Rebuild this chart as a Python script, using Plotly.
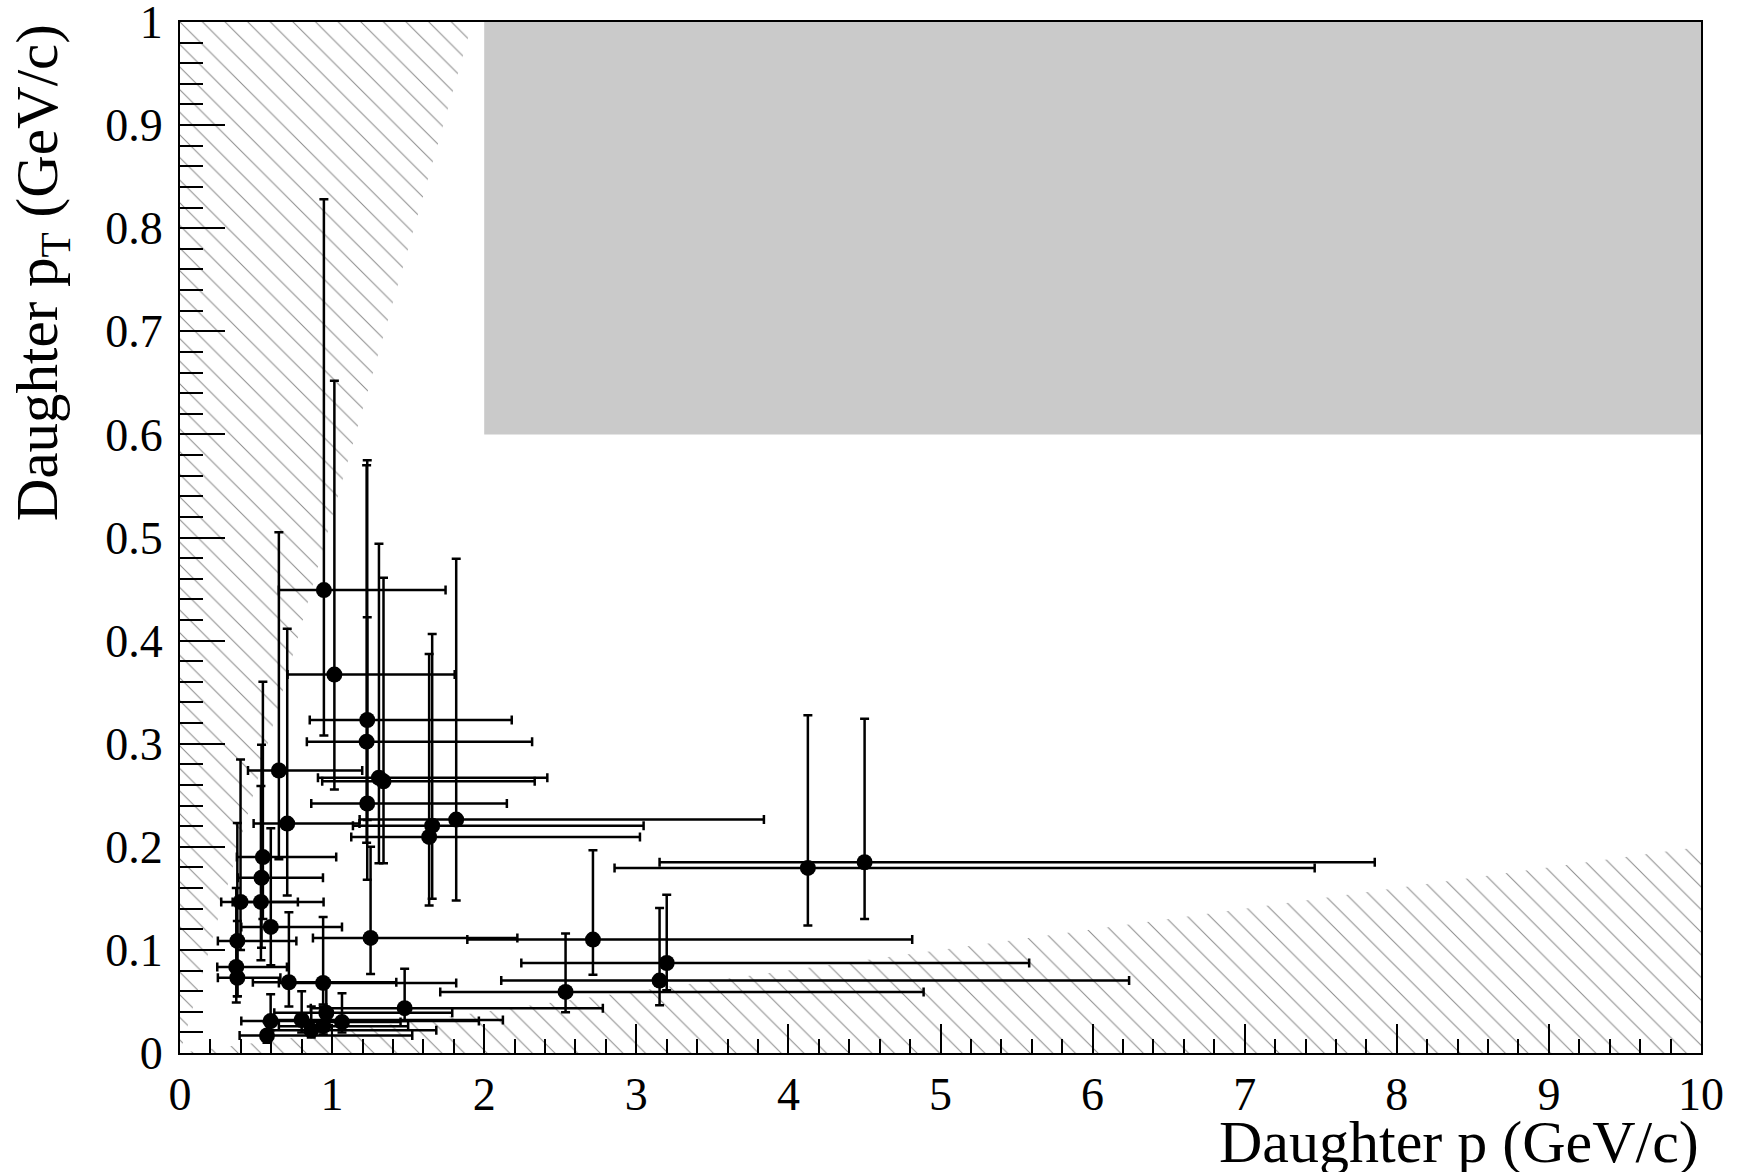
import plotly.graph_objects as go

# ---- data ----
p_val = [0.946, 1.015, 1.231, 1.227, 1.308, 1.338, 1.231, 0.650, 0.705, 1.816,
         1.658, 1.638, 0.545, 0.536, 0.398, 0.532, 0.597, 0.377, 1.253, 2.715,
         0.370, 0.377, 0.716, 0.941, 2.535, 3.153, 3.200, 1.477, 0.596, 0.572,
         0.800, 0.863, 0.962, 0.942, 1.065, 4.128, 4.501]
pt_val = [0.449, 0.367, 0.323, 0.302, 0.267, 0.2635, 0.242, 0.274, 0.2225, 0.2264,
          0.2205, 0.2096, 0.190, 0.170, 0.1465, 0.1465, 0.1223, 0.1087, 0.1116, 0.110,
          0.0835, 0.0730, 0.0686, 0.068, 0.0592, 0.0702, 0.0873, 0.0435, 0.031, 0.017,
          0.032, 0.022, 0.039, 0.026, 0.030, 0.1795, 0.185]
p_low = [0.650, 0.707, 0.853, 0.834, 0.907, 0.935, 0.863, 0.447, 0.484, 1.181,
         1.137, 1.126, 0.374, 0.381, 0.271, 0.346, 0.403, 0.249, 0.874, 1.889,
         0.245, 0.249, 0.479, 0.650, 1.711, 2.112, 2.244, 0.860, 0.403, 0.392,
         0.620, 0.600, 0.620, 0.650, 0.800, 2.857, 3.153]
p_high = [1.746, 1.806, 2.181, 2.315, 2.415, 2.332, 2.149, 1.198, 1.180, 3.839,
          3.048, 3.024, 1.027, 0.940, 0.775, 0.944, 1.065, 0.765, 2.218, 4.814,
          0.703, 0.660, 1.422, 1.816, 4.889, 6.240, 5.583, 2.780, 1.965, 1.527,
          2.123, 1.685, 1.790, 1.500, 1.450, 7.460, 7.855]
pt_low = [0.308, 0.2555, 0.226, 0.204, 0.184, 0.184, 0.168, 0.188, 0.1527, 0.1478,
          0.1497, 0.143, 0.130, 0.102, 0.100, 0.090, 0.085, 0.055, 0.0767, 0.076,
          0.049, 0.055, 0.045, 0.047, 0.0395, 0.0463, 0.0608, 0.031, 0.022, 0.010,
          0.020, 0.015, 0.027, 0.018, 0.020, 0.1236, 0.130]
pt_high = [0.828, 0.652, 0.575, 0.570, 0.494, 0.461, 0.4226, 0.505, 0.4116, 0.4795,
           0.4064, 0.387, 0.360, 0.299, 0.2846, 0.259, 0.218, 0.223, 0.200, 0.1966,
           0.160, 0.128, 0.1365, 0.132, 0.1158, 0.1407, 0.1536, 0.0818, 0.057, 0.030,
           0.060, 0.045, 0.070, 0.045, 0.058, 0.3275, 0.3243]

# acceptance boundaries (pT/p slopes) and excluded box
left_cut_slope = 0.52
bottom_cut_slope = 0.02
box_p = [2.0, 10.0]
box_pt = [0.6, 1.0]

x_range = [0, 10]
y_range = [0, 1]
x_tickvals = list(range(0, 11))
x_ticktext = [str(v) for v in x_tickvals]
y_tickvals = [i / 10 for i in range(0, 11)]
y_ticktext = ["0", "0.1", "0.2", "0.3", "0.4", "0.5", "0.6", "0.7", "0.8", "0.9", "1"]

FONT = "Liberation Serif, Times New Roman, serif"

fig = go.Figure()

hatch = dict(shape="\\", size=16, solidity=0.065, fgcolor="#8c8c8c",
             bgcolor="rgba(0,0,0,0)", fillmode="replace")

# left hatched region: pT above left_cut_slope * p
top_p = y_range[1] / left_cut_slope
fig.add_trace(go.Scatter(
    x=[0, 0, top_p, 0], y=[0, y_range[1], y_range[1], 0],
    mode="lines", line=dict(width=0), fill="toself",
    fillcolor="rgba(0,0,0,0)", fillpattern=hatch,
    hoverinfo="skip", showlegend=False))

# bottom hatched region: pT below bottom_cut_slope * p
fig.add_trace(go.Scatter(
    x=[0, x_range[1], x_range[1], 0], y=[0, 0, bottom_cut_slope * x_range[1], 0],
    mode="lines", line=dict(width=0), fill="toself",
    fillcolor="rgba(0,0,0,0)", fillpattern=hatch,
    hoverinfo="skip", showlegend=False))

fig.add_shape(type="rect", xref="x", yref="y",
              x0=box_p[0], x1=box_p[1], y0=box_pt[0], y1=box_pt[1],
              fillcolor="#cacaca", line=dict(width=0), layer="below")

fig.add_trace(go.Scatter(
    x=p_val, y=pt_val, mode="markers",
    marker=dict(color="black", size=16),
    error_x=dict(type="data", symmetric=False,
                 array=[h - v for h, v in zip(p_high, p_val)],
                 arrayminus=[v - l for v, l in zip(p_val, p_low)],
                 color="black", thickness=2.5, width=4.5),
    error_y=dict(type="data", symmetric=False,
                 array=[h - v for h, v in zip(pt_high, pt_val)],
                 arrayminus=[v - l for v, l in zip(pt_val, pt_low)],
                 color="black", thickness=2.5, width=4.5),
    showlegend=False))

fig.update_layout(
    width=1746, height=1172,
    margin=dict(l=180, r=45, t=22, b=119),
    paper_bgcolor="white", plot_bgcolor="white",
    font=dict(family=FONT, color="black"),
    xaxis=dict(range=x_range, showgrid=False, zeroline=False, automargin=False,
               showline=True, linewidth=2, linecolor="black", mirror=True,
               ticks="inside", ticklen=29, tickwidth=2, tickcolor="black",
               tickvals=x_tickvals, ticktext=x_ticktext,
               tickfont=dict(family=FONT, size=46), ticklabeloverflow="allow",
               minor=dict(dtick=0.2, ticks="inside", ticklen=14, tickwidth=2,
                          tickcolor="black", showgrid=False)),
    yaxis=dict(range=y_range, showgrid=False, zeroline=False, automargin=False,
               showline=True, linewidth=2, linecolor="black", mirror=True,
               ticks="inside", ticklen=45, tickwidth=2, tickcolor="black",
               tickvals=y_tickvals, ticktext=y_ticktext,
               tickfont=dict(family=FONT, size=46), ticklabelstandoff=6,
               ticklabeloverflow="allow",
               minor=dict(dtick=0.02, ticks="inside", ticklen=23, tickwidth=2,
                          tickcolor="black", showgrid=False)),
)

fig.add_annotation(text="Daughter p (GeV/c)", xref="paper", yref="paper",
                   x=1.0, y=-0.086, xanchor="right", yanchor="middle",
                   showarrow=False, font=dict(family=FONT, size=60))
fig.add_annotation(text="Daughter p<sub>T</sub> (GeV/c)", xref="paper", yref="paper",
                   x=-0.0916, y=1.0, xanchor="center", yanchor="top", textangle=-90,
                   showarrow=False, font=dict(family=FONT, size=59))

fig.write_html("out.html")
